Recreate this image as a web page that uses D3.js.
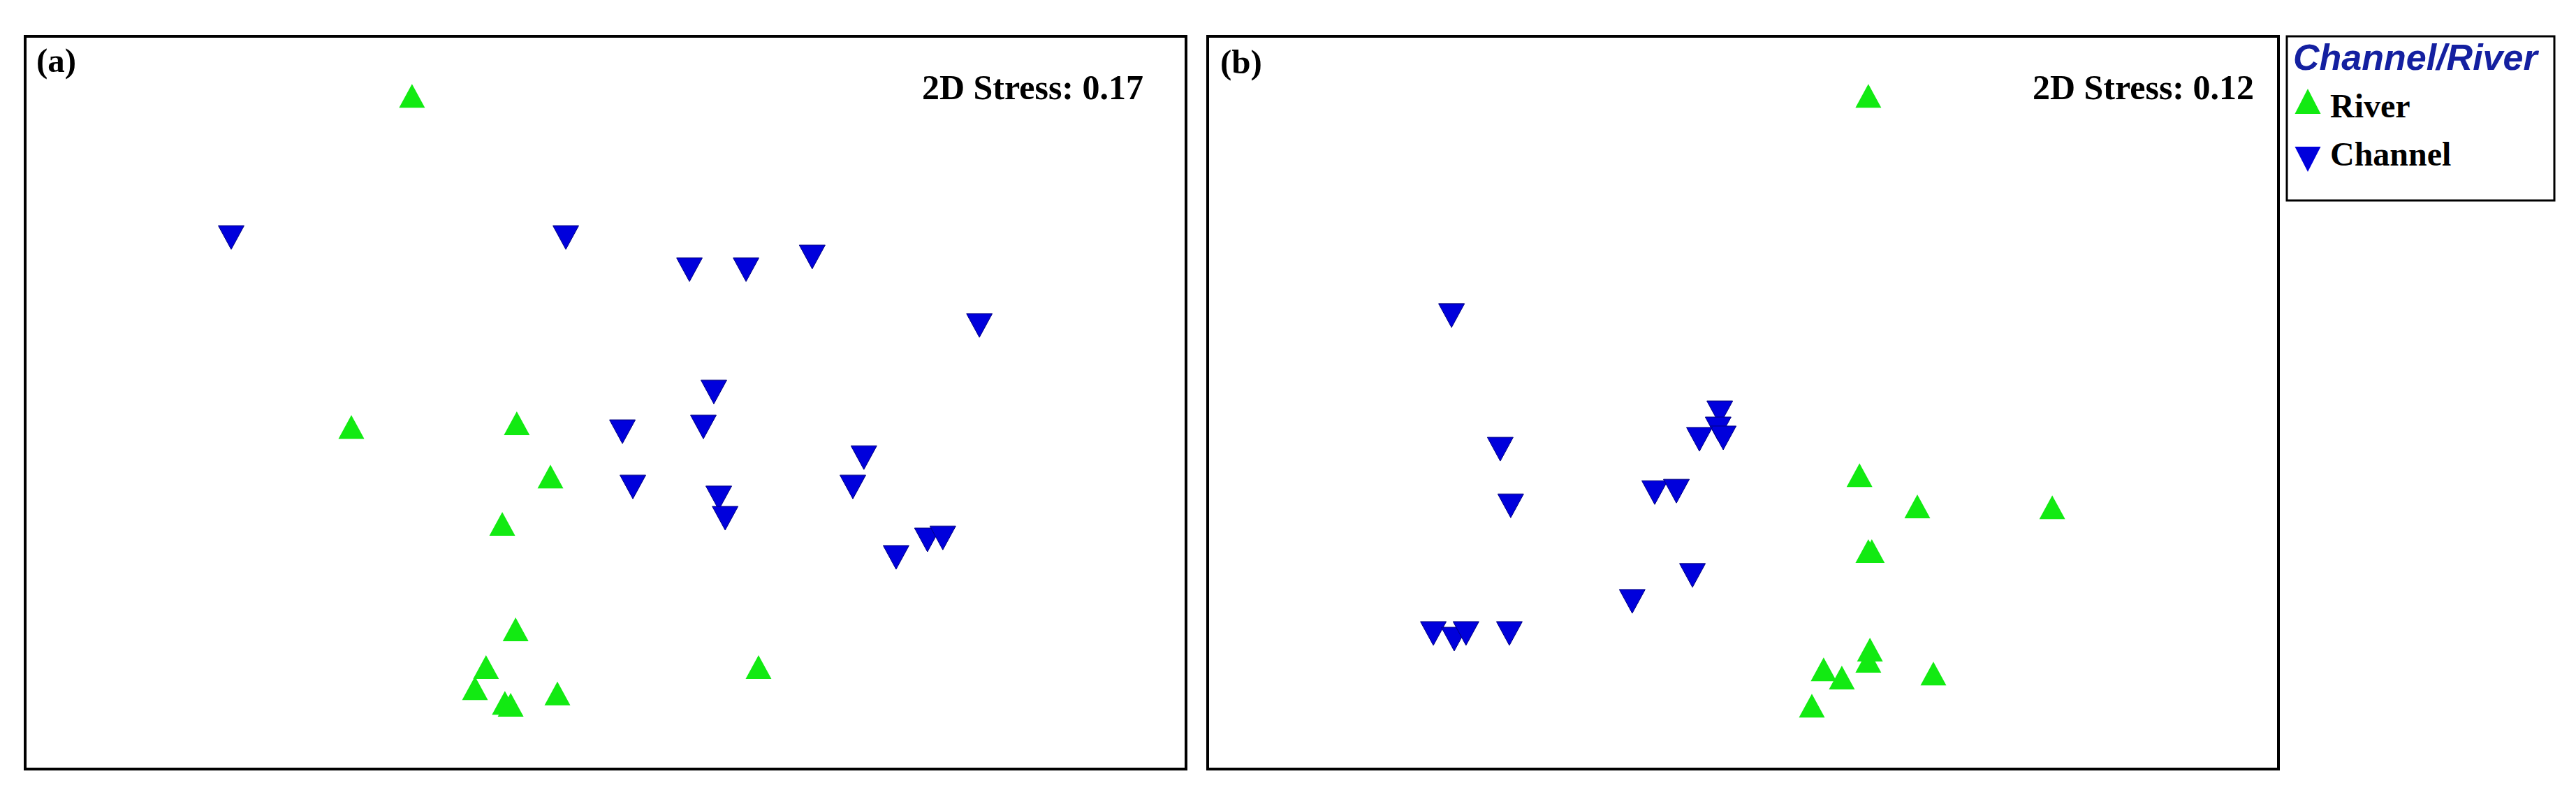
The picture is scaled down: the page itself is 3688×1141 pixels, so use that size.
<html>
<head>
<title>NMDS Channel / River</title>
<style>
  body { margin: 0; background: #ffffff; }
  .frame { fill: none; stroke: #000000; stroke-width: 4px; }
  .lab { font-family: "Liberation Serif", "Times New Roman", serif; font-weight: bold; fill: #000000; }
</style>
<script src="https://d3js.org/d3.v7.min.js"></script>
</head>
<body>
<div id="chart"></div>
<script type="text/javascript">

// NMDS scores (axes arbitrary units)
var groups = ["River", "Channel"];

var riverA_x = [-0.667, -0.876, -0.306, -0.190, -0.356, -0.310, -0.412, -0.450, -0.347, -0.327, -0.166, 0.527];
var riverA_y = [1.089, -0.086, -0.073, -0.262, -0.430, -0.804, -0.938, -1.013, -1.065, -1.072, -1.032, -0.938];
var channelA_x = [-1.290, -0.137, 0.289, 0.484, 0.712, 1.288, 0.373, 0.058, 0.337, 0.890, 0.094, 0.852, 0.390, 0.412, 1.109, 1.162, 1.001];
var channelA_y = [0.586, 0.586, 0.472, 0.472, 0.517, 0.274, 0.038, -0.103, -0.086, -0.195, -0.299, -0.299, -0.338, -0.410, -0.487, -0.480, -0.549];

var riverB_x = [0.468, 0.435, 0.651, 1.155, 0.468, 0.481, 0.474, 0.468, 0.301, 0.369, 0.711, 0.257];
var riverB_y = [1.089, -0.257, -0.368, -0.371, -0.527, -0.527, -0.876, -0.916, -0.946, -0.975, -0.961, -1.075];
var channelB_x = [-1.089, -0.087, -0.093, -0.074, -0.163, -0.907, -0.330, -0.249, -0.868, -0.189, -0.414, -1.157, -1.079, -1.035, -0.873];
var channelB_y = [0.309, -0.036, -0.093, -0.125, -0.130, -0.165, -0.319, -0.314, -0.366, -0.613, -0.705, -0.819, -0.839, -0.819, -0.819];

var panelLabels = ["(a)", "(b)"];
var stressLabels = ["2D Stress: 0.17", "2D Stress: 0.12"];

var width = 3688, height = 1141;
var green = "#12ea12", blue = "#0000dc";

var svg = d3.select("#chart").append("svg")
    .attr("width", width)
    .attr("height", height);

// triangle path, up or down, centred on its box
function tri(w, h, up) {
  if (up) return "M" + (-w/2) + "," + (h/2) + "L" + (w/2) + "," + (h/2) + "L0," + (-h/2) + "Z";
  return "M" + (-w/2) + "," + (-h/2) + "L" + (w/2) + "," + (-h/2) + "L0," + (h/2) + "Z";
}

function zip(xs, ys) {
  return xs.map(function(v, i) { return {x: v, y: ys[i]}; });
}

var panels = [
  {left: 36, right: 1698, river: zip(riverA_x, riverA_y), channel: zip(channelA_x, channelA_y), labX: 52, labY: 103, stressX: 1637},
  {left: 1729, right: 3262, river: zip(riverB_x, riverB_y), channel: zip(channelB_x, channelB_y), labX: 1747, labY: 105, stressX: 3227}
];
var plotTop = 52, plotBottom = 1101;

panels.forEach(function(p, k) {
  var x = d3.scaleLinear().domain([-2, 2]).range([p.left, p.right]);
  var y = d3.scaleLinear().domain([-1.3, 1.3]).range([plotBottom, plotTop]);

  var g = svg.append("g");

  g.append("rect")
    .attr("class", "frame")
    .attr("x", p.left)
    .attr("y", plotTop)
    .attr("width", p.right - p.left)
    .attr("height", plotBottom - plotTop);

  g.selectAll("path.river")
    .data(p.river)
    .enter()
    .append("path")
    .attr("class", "river")
    .attr("d", tri(37, 34, true))
    .attr("fill", green)
    .attr("transform", function(d) { return "translate(" + x(d.x) + "," + y(d.y) + ")"; });

  g.selectAll("path.channel")
    .data(p.channel)
    .enter()
    .append("path")
    .attr("class", "channel")
    .attr("d", tri(37, 34, false))
    .attr("fill", blue)
    .attr("stroke", "#000080")
    .attr("stroke-width", 1)
    .attr("transform", function(d) { return "translate(" + x(d.x) + "," + y(d.y) + ")"; });

  g.append("text")
    .attr("class", "lab")
    .attr("x", p.labX)
    .attr("y", p.labY)
    .style("font-size", "49px")
    .text(panelLabels[k]);

  g.append("text")
    .attr("class", "lab")
    .attr("x", p.stressX)
    .attr("y", 142)
    .attr("text-anchor", "end")
    .style("font-size", "50px")
    .text(stressLabels[k]);
});

// legend
var leg = svg.append("g");
leg.append("rect")
  .attr("x", 3274)
  .attr("y", 52)
  .attr("width", 383)
  .attr("height", 235)
  .attr("fill", "none")
  .attr("stroke", "#000")
  .attr("stroke-width", 3);

leg.append("text")
  .attr("x", 3283)
  .attr("y", 100)
  .style("font-family", "'Liberation Sans', Arial, sans-serif")
  .style("font-weight", "bold")
  .style("font-style", "italic")
  .style("font-size", "52px")
  .attr("fill", "#1420a0")
  .text("Channel/River");

var legY = [145, 228];
var legText = [168, 237];
groups.forEach(function(name, i) {
  leg.append("path")
    .attr("d", tri(37, 36, i == 0))
    .attr("fill", i == 0 ? green : blue)
    .attr("transform", "translate(3304," + legY[i] + ")");
  leg.append("text")
    .attr("class", "lab")
    .attr("x", 3336)
    .attr("y", legText[i])
    .style("font-size", "48px")
    .text(name);
});

</script>
</body>
</html>
